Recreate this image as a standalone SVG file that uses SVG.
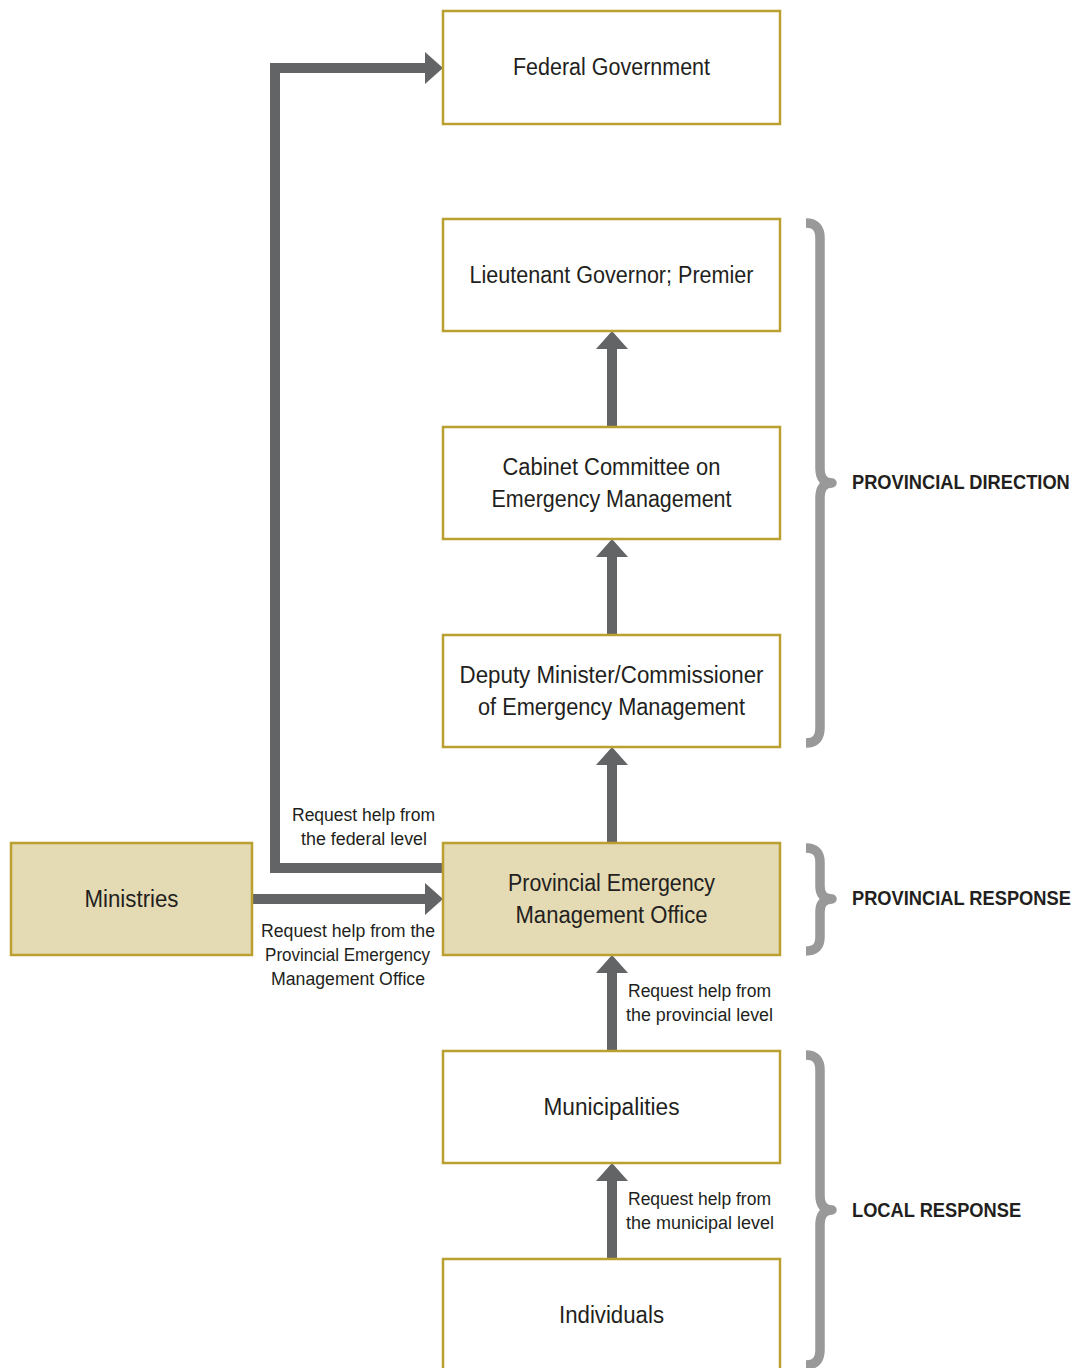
<svg xmlns="http://www.w3.org/2000/svg" width="1078" height="1368" viewBox="0 0 1078 1368">
<defs>
<style>
.box{fill:#ffffff;stroke:#b9a030;stroke-width:2.5}
.hl{fill:#e4dab4}
.conn{fill:none;stroke:#636466;stroke-width:10;stroke-linejoin:miter;marker-end:url(#ah)}
.brace{fill:none;stroke:#999999;stroke-width:9.5;stroke-linejoin:round}
.nt{font-family:"Liberation Sans Narrow","Liberation Sans",Arial,sans-serif;font-size:23px;fill:#231f20;text-anchor:middle}
.lt{font-family:"Liberation Sans Narrow","Liberation Sans",Arial,sans-serif;font-size:18px;fill:#231f20;text-anchor:middle}
.st{font-family:"Liberation Sans",Arial,sans-serif;font-size:21px;font-weight:bold;fill:#231f20;text-anchor:start}
</style>
<marker id="ah" markerUnits="userSpaceOnUse" viewBox="0 0 18 32" markerWidth="18" markerHeight="32" refX="0" refY="16" orient="auto">
<path d="M0,0 L18,16 L0,32 Z" fill="#636466"/>
</marker>
</defs>
<rect width="1078" height="1368" fill="#ffffff"/>

<g id="connectors">
<path class="conn" d="M443,868 H275 V68 H425"/>
<path class="conn" d="M252,899 H425"/>
<path class="conn" d="M612,427 V349"/>
<path class="conn" d="M612,635 V557"/>
<path class="conn" d="M612,843 V765"/>
<path class="conn" d="M612,1051 V973"/>
<path class="conn" d="M612,1259 V1181"/>
</g>

<g id="federal">
<rect class="box" x="443" y="11" width="337" height="113"/>
<text class="nt" x="611.5" y="75" textLength="197" lengthAdjust="spacingAndGlyphs">Federal Government</text>
</g>
<g id="lieutenant">
<rect class="box" x="443" y="219" width="337" height="112"/>
<text class="nt" x="611.5" y="283" textLength="284" lengthAdjust="spacingAndGlyphs">Lieutenant Governor; Premier</text>
</g>
<g id="cabinet">
<rect class="box" x="443" y="427" width="337" height="112"/>
<text class="nt" x="611.5" y="475" textLength="218" lengthAdjust="spacingAndGlyphs">Cabinet Committee on</text>
<text class="nt" x="611.5" y="507" textLength="240" lengthAdjust="spacingAndGlyphs">Emergency Management</text>
</g>
<g id="deputy">
<rect class="box" x="443" y="635" width="337" height="112"/>
<text class="nt" x="611.5" y="683" textLength="304" lengthAdjust="spacingAndGlyphs">Deputy Minister/Commissioner</text>
<text class="nt" x="611.5" y="715" textLength="267" lengthAdjust="spacingAndGlyphs">of Emergency Management</text>
</g>
<g id="pemo">
<rect class="box hl" x="443" y="843" width="337" height="112"/>
<text class="nt" x="611.5" y="891" textLength="207" lengthAdjust="spacingAndGlyphs">Provincial Emergency</text>
<text class="nt" x="611.5" y="923" textLength="192" lengthAdjust="spacingAndGlyphs">Management Office</text>
</g>
<g id="ministries">
<rect class="box hl" x="11" y="843" width="241" height="112"/>
<text class="nt" x="131.5" y="907" textLength="94" lengthAdjust="spacingAndGlyphs">Ministries</text>
</g>
<g id="municipalities">
<rect class="box" x="443" y="1051" width="337" height="112"/>
<text class="nt" x="611.5" y="1115" textLength="136" lengthAdjust="spacingAndGlyphs">Municipalities</text>
</g>
<g id="individuals">
<rect class="box" x="443" y="1259" width="337" height="120"/>
<text class="nt" x="611.5" y="1323" textLength="105" lengthAdjust="spacingAndGlyphs">Individuals</text>
</g>

<g id="labels">
<text class="lt" x="363.5" y="821" textLength="143" lengthAdjust="spacingAndGlyphs">Request help from</text>
<text class="lt" x="364" y="845" textLength="126" lengthAdjust="spacingAndGlyphs">the federal level</text>
<text class="lt" x="348" y="937" textLength="174" lengthAdjust="spacingAndGlyphs">Request help from the</text>
<text class="lt" x="347.5" y="961" textLength="165" lengthAdjust="spacingAndGlyphs">Provincial Emergency</text>
<text class="lt" x="348" y="985" textLength="154" lengthAdjust="spacingAndGlyphs">Management Office</text>
<text class="lt" x="699.5" y="997" textLength="143" lengthAdjust="spacingAndGlyphs">Request help from</text>
<text class="lt" x="699.5" y="1021" textLength="147" lengthAdjust="spacingAndGlyphs">the provincial level</text>
<text class="lt" x="699.5" y="1205" textLength="143" lengthAdjust="spacingAndGlyphs">Request help from</text>
<text class="lt" x="700" y="1229" textLength="148" lengthAdjust="spacingAndGlyphs">the municipal level</text>
</g>

<g id="braces">
<path class="brace" d="M806,223 Q820,223 820,238 V468 Q820,483 832,483 Q820,483 820,498 V728 Q820,743 806,743"/>
<path class="brace" d="M806,848 Q820,848 820,862 V886 Q820,899 832,899 Q820,899 820,912 V937 Q820,951 806,951"/>
<path class="brace" d="M806,1055 Q820,1055 820,1070 V1195 Q820,1210 832,1210 Q820,1210 820,1225 V1350 Q820,1365 806,1365"/>
<text class="st" transform="translate(852,489) scale(0.87,1)">PROVINCIAL DIRECTION</text>
<text class="st" transform="translate(852,905) scale(0.87,1)">PROVINCIAL RESPONSE</text>
<text class="st" transform="translate(852,1217) scale(0.87,1)">LOCAL RESPONSE</text>
</g>
</svg>
